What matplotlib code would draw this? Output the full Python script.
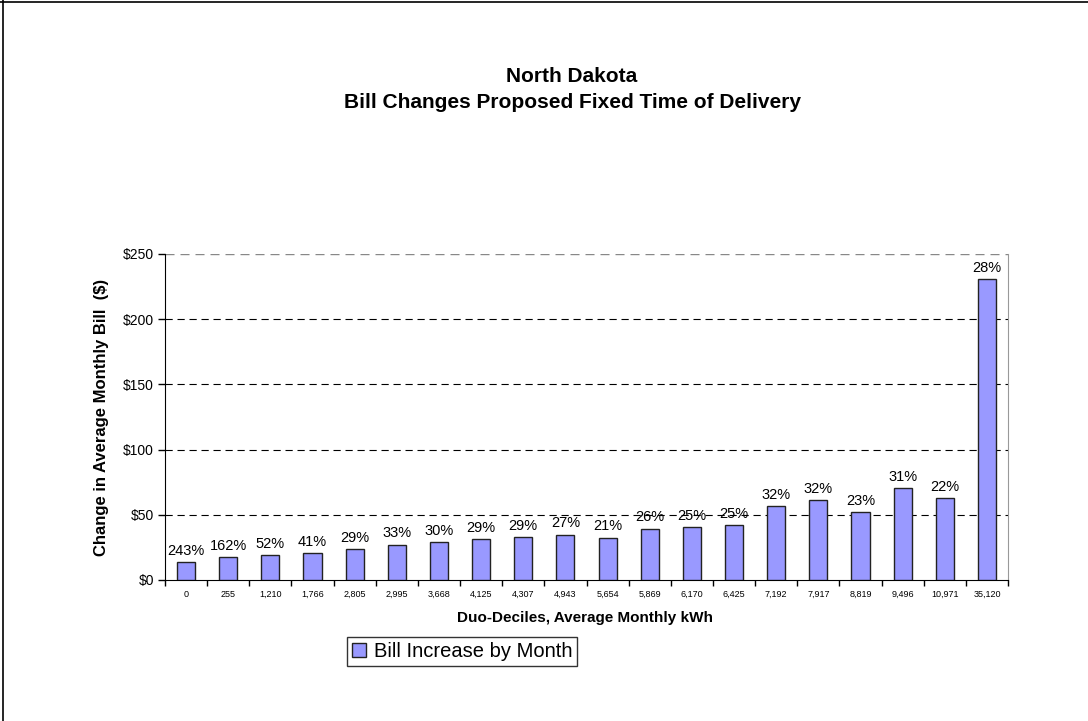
import matplotlib
matplotlib.use("Agg")
import matplotlib.pyplot as plt
from matplotlib.lines import Line2D

plt.rcParams["font.family"] = ["Liberation Sans", "DejaVu Sans"]

# kWh duo-decile labels, bill change ($) and percent increase
deciles = ["0", "255", "1,210", "1,766", "2,805", "2,995", "3,668", "4,125",
           "4,307", "4,943", "5,654", "5,869", "6,170", "6,425", "7,192",
           "7,917", "8,819", "9,496", "10,971", "35,120"]
bill_change = [14.0, 17.4, 18.9, 20.4, 23.5, 27.1, 29.1, 31.4, 33.2, 34.8,
               32.5, 39.4, 40.4, 42.0, 57.0, 61.1, 52.4, 70.8, 62.6, 230.8]
pct_change = ["243%", "162%", "52%", "41%", "29%", "33%", "30%", "29%", "29%",
              "27%", "21%", "26%", "25%", "25%", "32%", "32%", "23%", "31%",
              "22%", "28%"]

W, H = 1088, 721
fig = plt.figure(figsize=(W / 100, H / 100), dpi=100)
ax = fig.add_axes([165 / W, 1 - 580 / H, (1008 - 165) / W, (580 - 254) / H])

x = list(range(len(deciles)))
bars = ax.bar(x, bill_change, width=0.43, color="#9999FF", edgecolor="#222222",
              linewidth=1.0, label="Bill Increase by Month", zorder=3)

for xi, v, p in zip(x, bill_change, pct_change):
    ax.annotate(p, (xi, v), xytext=(0, 3), textcoords="offset points",
                ha="center", va="bottom", fontsize=10.5, zorder=4)

ax.set_xlim(-0.5, len(deciles) - 0.5)
ax.set_ylim(0, 250)
ax.set_yticks([0, 50, 100, 150, 200, 250])
ax.set_yticklabels([f"${v}" for v in [0, 50, 100, 150, 200, 250]], fontsize=10)
ax.set_xticks(x)
ax.set_xticklabels(deciles, fontsize=6.5)
ax.set_xticks([i - 0.5 for i in range(len(deciles) + 1)], minor=True)
ax.tick_params(axis="x", which="major", length=0, pad=7)
ax.tick_params(axis="x", which="minor", length=4, direction="out", width=1)
ax.tick_params(axis="y", length=5, width=1, direction="out", pad=3)

# dashed gridlines, top one lighter like the plot-area border
for v in [50, 100, 150, 200]:
    ax.axhline(v, color="black", linewidth=0.8, dashes=(6.5, 4.3), zorder=1)
ax.axhline(250, color="#888888", linewidth=1.0, dashes=(6.5, 4.3), zorder=1)

ax.spines["top"].set_visible(False)
ax.spines["right"].set_color("#999999")
ax.spines["left"].set_color("black")
ax.spines["bottom"].set_color("black")

ax.set_ylabel("Change in Average Monthly Bill  ($)", fontsize=12,
              fontweight="bold", labelpad=10)
fig.text(585 / W, 1 - 618 / H, "Duo-Deciles, Average Monthly kWh",
         ha="center", va="center", fontsize=11, fontweight="bold")

fig.text(572 / W, 1 - 76 / H, "North Dakota", ha="center", va="center",
         fontsize=15, fontweight="bold")
fig.text(572 / W, 1 - 102 / H, "Bill Changes Proposed Fixed Time of Delivery",
         ha="center", va="center", fontsize=15, fontweight="bold")

leg = fig.legend(handles=[bars], loc="center",
                 bbox_to_anchor=(462 / W, 1 - 651.5 / H), fontsize=14.5,
                 frameon=True, fancybox=False, handlelength=0.7,
                 handleheight=0.7, handletextpad=0.4, borderpad=0.25)
leg.get_frame().set_edgecolor("black")
leg.get_frame().set_linewidth(1.0)

# outer chart border (top and left only visible)
fig.add_artist(Line2D([0, 1], [1 - 1.5 / H, 1 - 1.5 / H], color="black",
                      linewidth=1.2, transform=fig.transFigure))
fig.add_artist(Line2D([2.5 / W, 2.5 / W], [0, 1], color="black",
                      linewidth=1.2, transform=fig.transFigure))

fig.savefig("out.png", dpi=100)
